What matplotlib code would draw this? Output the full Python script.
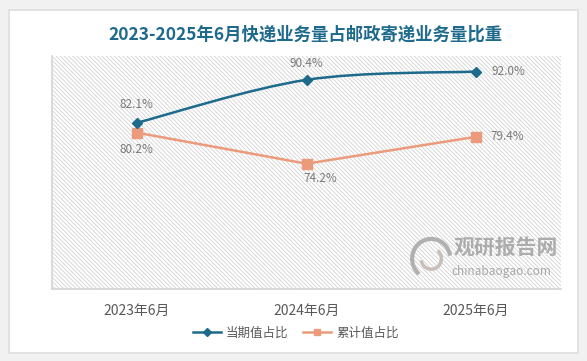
import numpy as np
import matplotlib.pyplot as plt
from matplotlib.path import Path
from matplotlib.patches import PathPatch, Rectangle, Arc

plt.rcParams['font.family'] = ['Noto Sans CJK SC', 'DejaVu Sans']
plt.rcParams['hatch.linewidth'] = 0.6

# data
categories = ['2023年6月', '2024年6月', '2025年6月']
dangqi = [82.1, 90.4, 92.0]     # 当期值占比
leiji = [80.2, 74.2, 79.4]      # 累计值占比

blue = '#1d6a8c'
orange = '#eb9b7b'

fig = plt.figure(figsize=(5.87, 3.61), dpi=100)
fig.patch.set_facecolor('#f1f1f1')
# shadow + white card
fig.add_artist(Rectangle((8/587, 7/361), 571/587, 345/361, transform=fig.transFigure,
                         facecolor='#e2e2e2', edgecolor='none', zorder=0))
fig.add_artist(Rectangle((10/587, 9/361), 567/587, 341/361, transform=fig.transFigure,
                         facecolor='white', edgecolor='none', zorder=0))

ax = fig.add_axes([52/587, 72/361, 509/587, 233/361])
ax.set_facecolor('white')
ax.add_patch(Rectangle((0, 0), 1, 1, transform=ax.transAxes, facecolor='white',
                       edgecolor='#d2d2d2', hatch='\\' * 8, lw=0, zorder=0))

x = np.arange(len(categories))

# smooth curve for 当期值 (Catmull-Rom style bezier through the points)
pts = np.column_stack([x, dangqi]).astype(float)
ext = np.vstack([pts[0], pts, pts[-1]])
verts = [pts[0]]
codes = [Path.MOVETO]
for i in range(len(pts) - 1):
    p0, p1, p2, p3 = ext[i], ext[i + 1], ext[i + 2], ext[i + 3]
    c1 = p1 + (p2 - p0) / 6
    c2 = p2 - (p3 - p1) / 6
    verts += [c1, c2, p2]
    codes += [Path.CURVE4] * 3
ax.add_patch(PathPatch(Path(verts, codes), facecolor='none', edgecolor=blue, lw=1.8, zorder=3))
ax.plot(x, dangqi, ls='none', marker='D', ms=5.5, color=blue, zorder=4)

ax.plot(x, leiji, color=orange, lw=1.8, marker='s', ms=6.5, zorder=3)

ax.set_xlim(-0.5, 2.5)
ax.set_ylim(50, 95)
ax.set_yticks([])
ax.set_xticks(x)
ax.set_xticklabels(categories, fontsize=10, color='#595959')
ax.tick_params(axis='x', length=0, pad=11)
for s in ['top', 'right']:
    ax.spines[s].set_visible(False)
for s in ['left', 'bottom']:
    ax.spines[s].set_color('#d4d4d4')
    ax.spines[s].set_linewidth(1.2)

lab = dict(fontsize=8.5, color='#7a7a7a', textcoords='offset points', va='center')
ax.annotate(f'{dangqi[0]}%', (x[0], dangqi[0]), xytext=(0, 13), ha='center', **lab)
ax.annotate(f'{dangqi[1]}%', (x[1], dangqi[1]), xytext=(0, 12), ha='center', **lab)
ax.annotate(f'{dangqi[2]:.1f}%', (x[2], dangqi[2]), xytext=(11, 0), ha='left', **lab)
ax.annotate(f'{leiji[0]}%', (x[0], leiji[0]), xytext=(0, -12), ha='center', **lab)
ax.annotate(f'{leiji[1]}%', (x[1], leiji[1]), xytext=(10, -11), ha='center', **lab)
ax.annotate(f'{leiji[2]}%', (x[2], leiji[2]), xytext=(10, 0), ha='left', **lab)

# watermark
ax.text(0.79, 0.18, '观研报告网', transform=ax.transAxes, fontsize=15, fontweight='bold',
        color='#a0a0a0', alpha=0.85, va='center', ha='left', zorder=2)
ax.text(0.785, 0.075, 'chinabaogao.com', transform=ax.transAxes, fontsize=8.5,
        color='#a8a8a8', va='center', ha='left', zorder=2)
ax.add_patch(Arc((0.745, 0.13), 0.075, 0.17, theta1=20, theta2=250, transform=ax.transAxes,
                 color='#b0b0b0', lw=3, zorder=2))
ax.add_patch(Arc((0.745, 0.13), 0.04, 0.09, theta1=200, theta2=430, transform=ax.transAxes,
                 color='#c8c0b8', lw=2.5, zorder=2))

fig.text(305/587, 1 - 35/361, '2023-2025年6月快递业务量占邮政寄递业务量比重', ha='center', va='center',
         fontsize=12.5, fontweight='bold', color='#1d6a8c')

ax.plot([], [], color=blue, lw=1.8, marker='D', ms=4, label='当期值占比')
ax.plot([], [], color=orange, lw=1.8, marker='s', ms=5, label='累计值占比')
handles, labels = ax.get_legend_handles_labels()
fig.legend(handles[-2:], labels[-2:], loc='center', bbox_to_anchor=(296/587, 1 - 333/361),
           ncol=2, frameon=False, fontsize=9, labelcolor='#595959', handlelength=2.2,
           columnspacing=1.2, handletextpad=0.4)

fig.savefig('out.png', dpi=100, facecolor=fig.get_facecolor())
